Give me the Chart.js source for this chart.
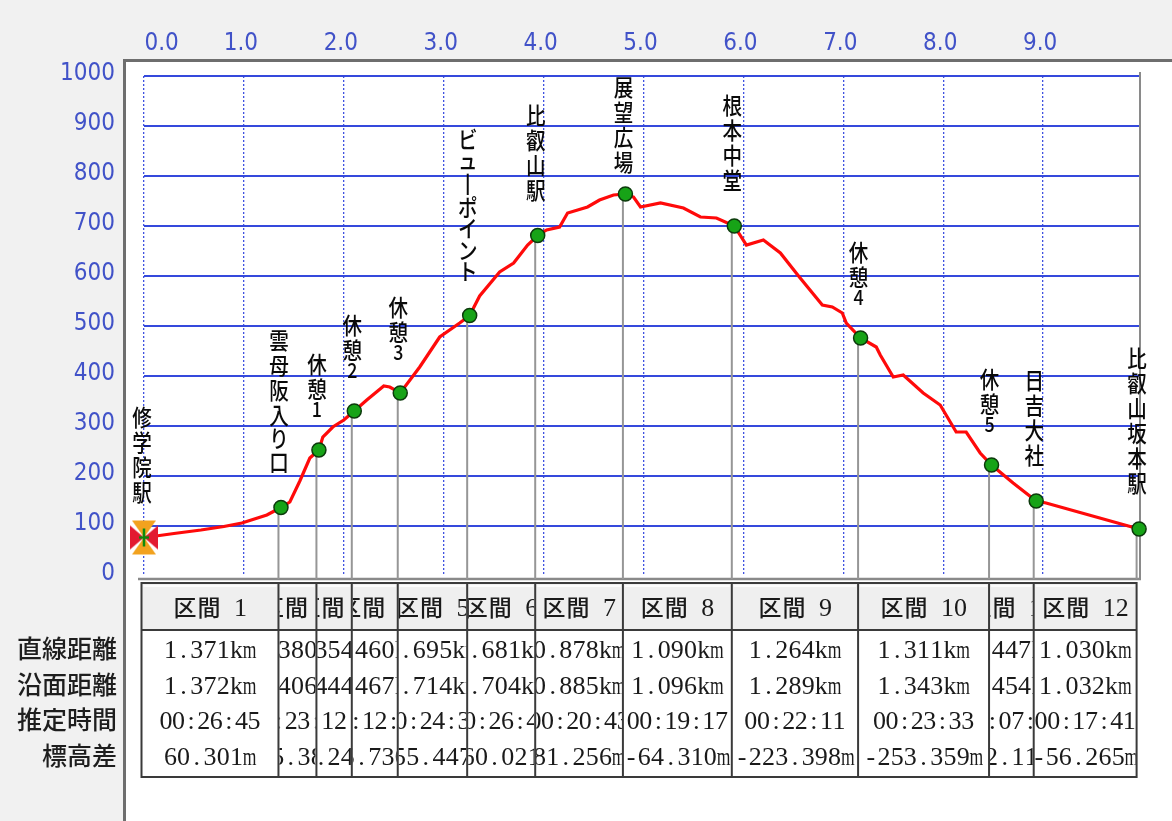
<!DOCTYPE html>
<html><head><meta charset="utf-8">
<script src="https://cdn.jsdelivr.net/npm/chart.js@4.4.1/dist/chart.umd.min.js"></script>
<style>html,body{margin:0;padding:0;background:#f1f1f1;} #wrap{width:1172px;height:821px;position:relative;}</style>
</head><body><div id="wrap"><canvas id="c" width="1172" height="821"></canvas></div>
<script>
// ---- data ----
const xTickValues = [0, 1, 2, 3, 4, 5, 6, 7, 8, 9];
const yTickValues = [0, 100, 200, 300, 400, 500, 600, 700, 800, 900, 1000];

const profileKm = [0, 0.12, 0.30, 0.57, 0.80, 0.98, 1.23, 1.371, 1.46, 1.56, 1.66, 1.751, 1.79, 1.89, 2.00, 2.105,
  2.23, 2.40, 2.46, 2.565, 2.76, 2.96, 3.16, 3.260, 3.36, 3.56, 3.70, 3.84, 3.941, 4.03, 4.16, 4.24, 4.44, 4.56,
  4.70, 4.819, 4.90, 4.97, 5.17, 5.40, 5.57, 5.73, 5.909, 6.03, 6.20, 6.37, 6.56, 6.79, 6.89, 6.99, 7.03, 7.173,
  7.33, 7.37, 7.50, 7.60, 7.80, 7.97, 8.13, 8.23, 8.37, 8.484, 8.70, 8.931, 9.03, 9.961];
const profileM = [77, 80, 85, 92, 99, 106, 122, 137, 148, 190, 236, 252, 278, 298, 312, 330,
  352, 380, 378, 366, 418, 478, 506, 521, 560, 608, 626, 662, 681, 692, 698, 726, 738, 752,
  762, 764, 758, 738, 746, 736, 718, 716, 700, 662, 672, 646, 598, 542, 538, 526, 506, 476,
  458, 442, 398, 402, 366, 342, 288, 288, 246, 222, 186, 150, 146, 94];

const waypointNames = ['修学院駅', '雲母阪入り口', '休憩1', '休憩2', '休憩3', 'ビューポイント', '比叡山駅',
  '展望広場', '根本中堂', '休憩4', '休憩5', '日吉大社', '比叡山坂本駅'];
const waypointM = [77, 137, 252, 330, 366, 521, 681, 764, 700, 476, 222, 150, 94];

const sectionLabels = ['区間 1', '区間 2', '区間 3', '区間 4', '区間 5', '区間 6', '区間 7', '区間 8',
  '区間 9', '区間 10', '区間 11', '区間 12'];
const straightKm = [1.371, 0.380, 0.354, 0.460, 0.695, 0.681, 0.878, 1.090, 1.264, 1.311, 0.447, 1.030];
const surfaceKm = [1.372, 0.406, 0.444, 0.467, 0.714, 0.704, 0.885, 1.096, 1.289, 1.343, 0.454, 1.032];
const estTime = ['00:26:45', '00:23:15', '00:12:20', '00:12:10', '00:24:30', '00:26:40', '00:20:43',
  '00:19:17', '00:22:11', '00:23:33', '00:07:50', '00:17:41'];
const elevDiffM = [60.301, 115.381, 78.245, 35.730, 155.447, 160.021, 81.256, -64.310, -223.398,
  -253.359, -72.115, -56.265];
const rowLabels = ['直線距離', '沿面距離', '推定時間', '標高差'];

// waypoint positions = cumulative straight distances
const waypointKm = [0];
straightKm.forEach(d => waypointKm.push(Math.round((waypointKm[waypointKm.length - 1] + d) * 1000) / 1000));

// ---- styles ----
const BLUE_TXT = '#4152c8';
const TICK_FONT = {family: "'Liberation Sans Narrow','DejaVu Sans Condensed','Liberation Sans',sans-serif", size: 24};
const CJK = "'Noto Sans CJK JP','Noto Sans CJK SC',sans-serif";
const SERIF = "'Liberation Serif','DejaVu Serif',serif";
const isCJK = c => /[\u3000-\u9fff\uff00-\uffef]/.test(c);

function makeStartIcon() {
  const c = document.createElement('canvas'); c.width = 28; c.height = 36;
  const g = c.getContext('2d');
  g.fillStyle = '#f2a21e';
  g.beginPath(); g.moveTo(2, 1); g.lineTo(26, 1); g.lineTo(14, 18); g.closePath(); g.fill();
  g.beginPath(); g.moveTo(2, 35); g.lineTo(26, 35); g.lineTo(14, 18); g.closePath(); g.fill();
  g.fillStyle = '#e21a30';
  g.beginPath(); g.moveTo(0, 6); g.lineTo(14, 18); g.lineTo(0, 30); g.closePath(); g.fill();
  g.beginPath(); g.moveTo(28, 6); g.lineTo(14, 18); g.lineTo(28, 30); g.closePath(); g.fill();
  g.strokeStyle = '#0c8a0c'; g.lineWidth = 2.5;
  g.beginPath(); g.moveTo(14, 9); g.lineTo(14, 27); g.moveTo(9, 18); g.lineTo(19, 18); g.stroke();
  return c;
}
const startIcon = makeStartIcon();

// fixed-pitch text (like a half-width / full-width Japanese system font)
function drawPitched(ctx, txt, cx, y, halfPitch, fullPitch, halfFont, fullFont) {
  const chars = Array.from(txt);
  const pitch = c => isCJK(c) ? fullPitch : halfPitch;
  const w = chars.reduce((s, c) => s + pitch(c), 0);
  let x = cx - w / 2;
  ctx.textAlign = 'center';
  ctx.textBaseline = 'alphabetic';
  chars.forEach(c => {
    const p = pitch(c);
    if (c !== ' ') {
      ctx.font = isCJK(c) ? fullFont : halfFont;
      ctx.fillText(c, x + p / 2, y + 8.5, p + 0.5);
    }
    x += p;
  });
}

const decorPlugin = {
  id: 'decor',
  beforeDraw(chart) {
    const ctx = chart.ctx;
    ctx.save();
    ctx.fillStyle = '#f1f1f1'; ctx.fillRect(0, 0, 1172, 821);
    ctx.fillStyle = '#ffffff'; ctx.fillRect(126, 62, 1046, 759);
    ctx.fillStyle = '#6e6e6e';
    ctx.fillRect(123, 60, 3, 761);
    ctx.fillRect(123, 59, 1049, 3);
    ctx.restore();
  },
  beforeDatasetsDraw(chart) {
    const ctx = chart.ctx;
    const meta = chart.getDatasetMeta(0);
    ctx.save();
    ctx.strokeStyle = '#8a8a8a'; ctx.lineWidth = 2;
    ctx.beginPath(); ctx.moveTo(1140, 72); ctx.lineTo(1140, 579); ctx.stroke();
    ctx.lineWidth = 2.5;
    ctx.beginPath(); ctx.moveTo(138, 579); ctx.lineTo(1141, 579); ctx.stroke();
    ctx.strokeStyle = '#969696'; ctx.lineWidth = 2;
    meta.data.forEach((p, i) => {
      if (i === 0) return;
      ctx.beginPath(); ctx.moveTo(p.x - 2.5, p.y); ctx.lineTo(p.x - 2.5, 579); ctx.stroke();
    });
    ctx.restore();
  },
  afterDraw(chart) {
    const ctx = chart.ctx;
    const meta = chart.getDatasetMeta(0);
    const xs = chart.scales.x;
    ctx.save();
    // vertical waypoint labels
    ctx.fillStyle = '#0a0a0a';
    ctx.textAlign = 'center'; ctx.textBaseline = 'middle';
    meta.data.forEach((p, i) => {
      const chars = Array.from(waypointNames[i]).map(c => c === 'ー' ? '丨' : c);
      const pitch = c => /[0-9]/.test(c) ? 15 : (/[\u3040-\u30ff]/.test(c) ? 21.5 : 25);
      const total = chars.reduce((s, c) => s + pitch(c), 0);
      let top = p.y - 33 - total;
      if (top < 75) top = 75;
      let acc = top;
      chars.forEach(c => {
        const h = pitch(c);
        ctx.save();
        ctx.translate(p.x - 2, acc + h / 2);
        ctx.scale(0.85, 1);
        ctx.font = (/[0-9]/.test(c) ? '500 21px ' : '500 23px ') + CJK;
        ctx.fillText(c, 0, 0);
        ctx.restore();
        acc += h;
      });
    });

    // table
    const bx = waypointKm.map(v => xs.getPixelForValue(v) - 2.5);
    const hTop = 583, hBot = 630, tBot = 777;
    const rowY = [649, 685, 720, 756];
    ctx.fillStyle = '#efefef';
    ctx.fillRect(bx[0], hTop, bx[12] - bx[0], hBot - hTop);
    ctx.fillStyle = '#ffffff';
    ctx.fillRect(bx[0], hBot, bx[12] - bx[0], tBot - hBot);
    for (let i = 0; i < 12; i++) {
      ctx.fillStyle = '#fbfbfb';
      ctx.fillRect(bx[i] + 2, hTop + 2, bx[i + 1] - bx[i] - 4, 2);
    }
    ctx.strokeStyle = '#3a3a3a'; ctx.lineWidth = 2;
    ctx.strokeRect(bx[0], hTop, bx[12] - bx[0], tBot - hTop);
    ctx.beginPath(); ctx.moveTo(bx[0], hBot); ctx.lineTo(bx[12], hBot); ctx.stroke();
    for (let i = 1; i < 12; i++) {
      ctx.beginPath(); ctx.moveTo(bx[i], hTop); ctx.lineTo(bx[i], tBot); ctx.stroke();
    }
    const HALF = '26px ' + SERIF;
    const FULL = '500 23px ' + CJK;
    const cellText = (txt, i, y, hp) => {
      ctx.save();
      ctx.beginPath(); ctx.rect(bx[i] + 1, hTop, bx[i + 1] - bx[i] - 2, tBot - hTop); ctx.clip();
      ctx.fillStyle = '#1a1a1a';
      drawPitched(ctx, txt, (bx[i] + bx[i + 1]) / 2, y, hp, 24, HALF, FULL);
      ctx.restore();
    };
    for (let i = 0; i < 12; i++) {
      cellText(sectionLabels[i], i, 607, 13);
      cellText(straightKm[i].toFixed(3) + 'km', i, rowY[0], 13.2);
      cellText(surfaceKm[i].toFixed(3) + 'km', i, rowY[1], 13.2);
      cellText(estTime[i], i, rowY[2], 12.6);
      cellText(elevDiffM[i].toFixed(3) + 'm', i, rowY[3], 13.2);
    }
    // row labels
    ctx.fillStyle = '#1e1e1e'; ctx.textAlign = 'right'; ctx.textBaseline = 'middle';
    ctx.font = '500 25px ' + CJK;
    rowLabels.forEach((t, r) => ctx.fillText(t, 117, rowY[r] - 1));
    ctx.restore();
  }
};

new Chart(document.getElementById('c').getContext('2d'), {
  type: 'scatter',
  data: {
    datasets: [
      {
        label: '地点',
        data: waypointKm.map((x, i) => ({x, y: waypointM[i]})),
        order: 0, showLine: false, clip: false,
        pointStyle: waypointKm.map((_, i) => i === 0 ? startIcon : 'circle'),
        pointRadius: 7, pointBackgroundColor: '#17a317', pointBorderColor: '#0c3a0c', pointBorderWidth: 1.5
      },
      {
        label: '標高',
        data: profileKm.map((x, i) => ({x, y: profileM[i]})),
        order: 1, showLine: true, clip: false,
        borderColor: '#ff0a0a', borderWidth: 3.2, pointRadius: 0, tension: 0, fill: false
      }
    ]
  },
  options: {
    responsive: false, animation: false, events: [],
    layout: {padding: {left: 0, top: 0, right: 32, bottom: 245}},
    plugins: {legend: {display: false}, tooltip: {enabled: false}},
    scales: {
      x: {
        type: 'linear', position: 'top', min: 0, max: 9.97,
        afterFit(s) { s.height = 76; },
        afterBuildTicks(s) { s.ticks = xTickValues.map(v => ({value: v})); },
        ticks: {
          autoSkip: false, maxRotation: 0, color: BLUE_TXT, font: TICK_FONT, padding: 18, labelOffset: -3,
          callback: v => (v === 0 ? '      ' : '') + v.toFixed(1)
        },
        grid: {color: '#3f52e0', lineWidth: 1.3, drawTicks: false},
        border: {display: false, dash: [2, 2]}
      },
      y: {
        type: 'linear', min: 0, max: 1000,
        afterFit(s) { s.width = 144; },
        afterBuildTicks(s) { s.ticks = yTickValues.map(v => ({value: v})); },
        ticks: {autoSkip: false, color: BLUE_TXT, font: TICK_FONT, padding: 29, labelOffset: -2.5,
          callback: v => String(v)},
        grid: {color: c => (c.tick && c.tick.value === 0) ? 'rgba(0,0,0,0)' : '#3549dc', lineWidth: 2, drawTicks: false},
        border: {display: false}
      }
    }
  },
  plugins: [decorPlugin]
});
</script></body></html>
